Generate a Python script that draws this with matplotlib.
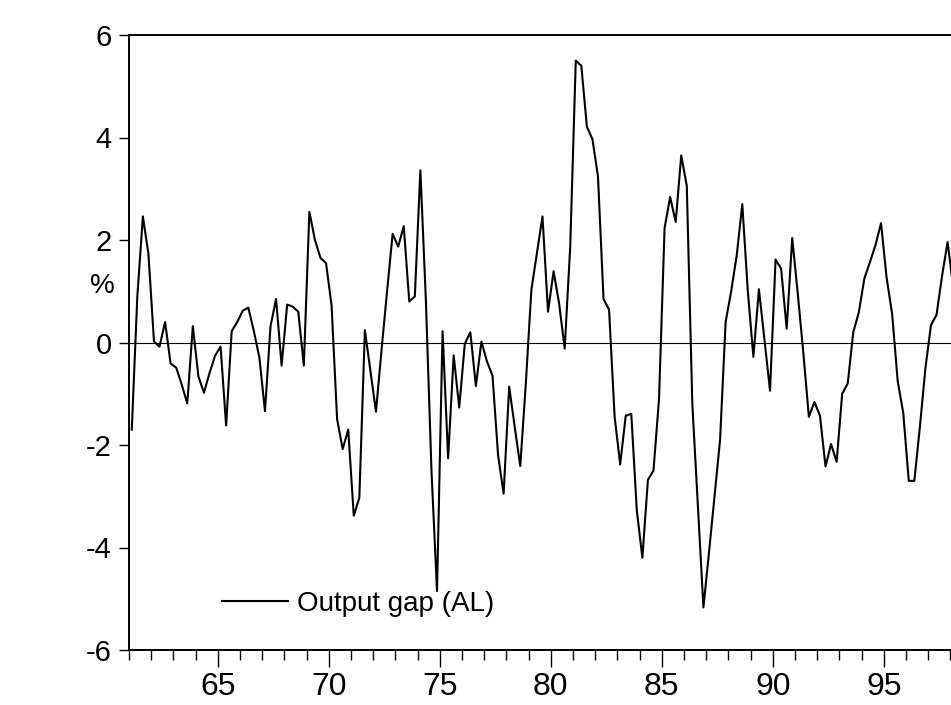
import matplotlib.pyplot as plt
import numpy as np
from matplotlib.ticker import MultipleLocator

plt.rcParams['font.family'] = ['Liberation Sans', 'DejaVu Sans']
plt.rcParams['axes.unicode_minus'] = False

# quarterly output gap (%), starting 1961Q1
gap = [
    -1.7, 0.9, 2.46, 1.73, 0.02, -0.08, 0.4, -0.41, -0.49, -0.82,
    -1.19, 0.32, -0.66, -0.98, -0.6, -0.26, -0.08, -1.62, 0.22, 0.4,
    0.62, 0.68, 0.22, -0.3, -1.34, 0.32, 0.85, -0.45, 0.74, 0.7,
    0.6, -0.45, 2.55, 2.0, 1.65, 1.55, 0.72, -1.5, -2.08, -1.7,
    -3.38, -3.03, 0.24, -0.55, -1.35, -0.15, 1.0, 2.12, 1.87, 2.27,
    0.8, 0.9, 3.36, 0.8, -2.5, -4.85, 0.22, -2.26, -0.25, -1.27,
    -0.03, 0.2, -0.85, 0.02, -0.37, -0.65, -2.2, -2.95, -0.86, -1.65,
    -2.41, -0.8, 1.03, 1.75, 2.46, 0.6, 1.39, 0.76, -0.12, 1.87,
    5.5, 5.4, 4.21, 3.97, 3.24, 0.85, 0.64, -1.45, -2.38, -1.43,
    -1.39, -3.28, -4.2, -2.68, -2.5, -1.1, 2.23, 2.84, 2.35, 3.65,
    3.06, -1.2, -3.2, -5.17, -4.1, -3.0, -1.9, 0.4, 1.0, 1.7,
    2.7, 1.0, -0.28, 1.04, 0.05, -0.94, 1.62, 1.44, 0.27, 2.04,
    0.95, -0.2, -1.45, -1.16, -1.43, -2.42, -1.98, -2.33, -1.0, -0.8,
    0.2, 0.59, 1.25, 1.57, 1.9, 2.33, 1.27, 0.56, -0.75, -1.37,
    -2.7, -2.7, -1.65, -0.5, 0.34, 0.54, 1.3, 1.96, 1.08,
]
first_year = 61
year_ticks = [65, 70, 75, 80, 85, 90, 95]
y_ticks = [-6, -4, -2, 0, 2, 4, 6]

# observations sit in the middle of each quarter
t = first_year + (np.arange(len(gap)) + 0.5) / 4

fig = plt.figure(figsize=(9.51, 7.05), dpi=100)
# right edge runs past the page, as in the cropped scan
ax = fig.add_axes([129/951, 1 - 650/705, (972.6 - 129)/951, 615/705])

ax.plot(t, gap, color='black', lw=1.5, label='Output gap (AL)')
ax.axhline(0, color='black', lw=0.8)

ax.set_xlim(61, 99)
ax.set_ylim(-6, 6)
ax.set_yticks(y_ticks)
ax.set_xticks(year_ticks)
ax.xaxis.set_minor_locator(MultipleLocator(1))

ax.tick_params(axis='y', direction='out', length=7.5, width=1.0, pad=5, labelsize=21)
ax.tick_params(axis='x', which='major', direction='out', length=12, width=1.0, pad=4, labelsize=23)
ax.tick_params(axis='x', which='minor', direction='out', length=7.5, width=1.0)

ax.spines['right'].set_visible(False)
for side in ['left', 'top', 'bottom']:
    ax.spines[side].set_linewidth(1.4)

ax.legend(loc='center left', bbox_to_anchor=(0.110, 0.075), frameon=False,
          fontsize=20, handlelength=2.4, handletextpad=0.3,
          borderpad=0, borderaxespad=0)

fig.text(102/951, 1 - 286/705, '%', fontsize=20, ha='center', va='center')

fig.savefig('out.png', dpi=100)
